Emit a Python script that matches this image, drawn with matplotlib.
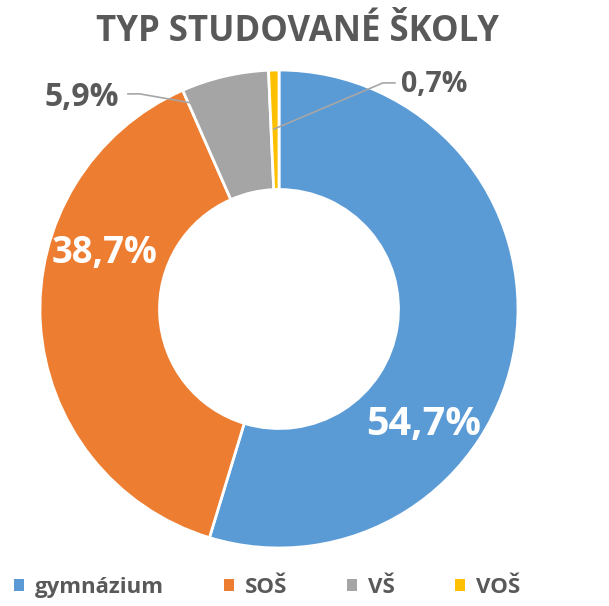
import matplotlib.pyplot as plt
from matplotlib.patches import Patch

# data
categories = ['gymnázium', 'SOŠ', 'VŠ', 'VOŠ']
values = [54.7, 38.7, 5.9, 0.7]
labels = ['54,7%', '38,7%', '5,9%', '0,7%']
colors = ['#5B9BD5', '#ED7D31', '#A5A5A5', '#FFC000']
text_gray = '#595959'

plt.rcParams['font.family'] = ['Open Sans', 'DejaVu Sans']

fig = plt.figure(figsize=(6.09, 6.06), dpi=100)
ax = fig.add_axes([40 / 609, 58 / 606, 478 / 609, 478 / 606])

ax.pie(values, colors=colors, startangle=90, counterclock=False, radius=1,
       wedgeprops=dict(width=0.5, edgecolor='white', linewidth=2))
ax.set_xlim(-1, 1)
ax.set_ylim(-1, 1)
ax.set_aspect('equal')

# labels inside
ax.text(0.605, -0.485, labels[0], color='white', fontsize=28.5, fontweight='bold',
        ha='center', va='center')
ax.text(-0.728, 0.234, labels[1], color='white', fontsize=26.3, fontweight='bold',
        ha='center', va='center')

# labels outside with leader lines
ax.text(-0.825, 0.887, labels[2], color=text_gray, fontsize=23, fontweight='bold',
        ha='center', va='center', clip_on=False)
ax.plot([-0.632, -0.582, -0.343], [0.9, 0.9, 0.858], color='#A6A6A6', lw=1.2,
        clip_on=False)
ax.text(0.649, 0.94, labels[3], color=text_gray, fontsize=20.5, fontweight='bold',
        ha='center', va='center', clip_on=False)
ax.plot([-0.021, 0.435, 0.485], [0.753, 0.946, 0.946], color='#A6A6A6', lw=1.2,
        clip_on=False)

fig.text(297 / 609, 1 - 32 / 606, 'TYP STUDOVANÉ ŠKOLY', color=text_gray, fontsize=25,
         fontweight='bold', ha='center', va='center')

handles = [Patch(facecolor=c, edgecolor='none') for c in colors]
leg = fig.legend(handles, categories, loc='lower center', ncol=4,
                 bbox_to_anchor=(267 / 609, -0.02), frameon=False,
                 handlelength=0.45, handleheight=0.45, handletextpad=0.5,
                 columnspacing=2.7, prop=dict(size=16, weight='bold'))
for t in leg.get_texts():
    t.set_color(text_gray)

fig.savefig('out.png', dpi=100)
